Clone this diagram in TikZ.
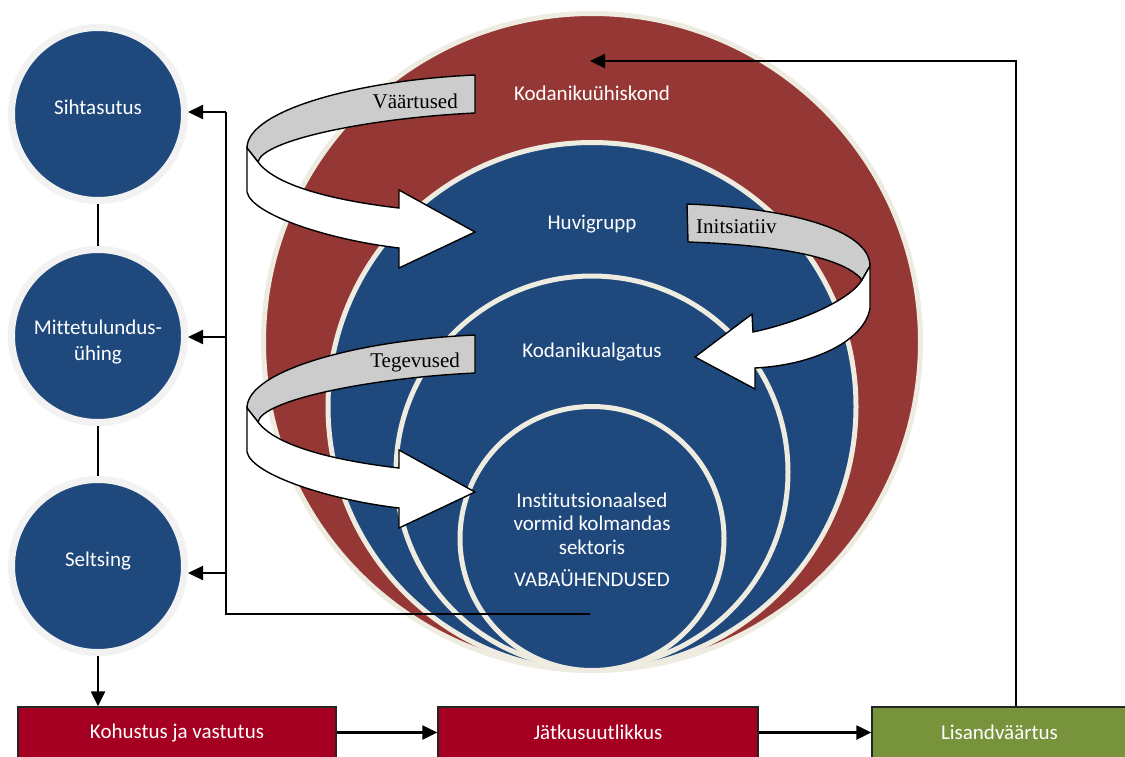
\documentclass[tikz,border=0pt]{standalone}
\usepackage{fontspec}
\setmainfont{Carlito}[Ligatures={NoCommon,NoContextual,NoRequired}]
\newfontfamily\bandfont{Liberation Serif}
\usetikzlibrary{arrows.meta}
\definecolor{civred}{HTML}{953735}
\definecolor{navy}{HTML}{1F497D}
\definecolor{beige}{HTML}{EEECE1}
\definecolor{ringgray}{HTML}{F2F2F2}
\definecolor{bandgray}{HTML}{CCCCCC}
\definecolor{boxred}{HTML}{A50021}
\definecolor{boxgreen}{HTML}{77933C}
\tikzset{
  bigcircle/.style={circle, draw=beige, line width=5pt, inner sep=0pt},
  orgcircle/.style={circle, fill=navy, draw=ringgray, line width=7pt, minimum size=173pt, inner sep=0pt},
  wlabel/.style={text=white, font=\fontsize{21}{25}\selectfont, inner sep=0pt, anchor=base},
  blabel/.style={text=black, font=\bandfont\fontsize{21}{25}\selectfont, inner sep=0pt},
  stage/.style={draw=black!85, line width=1.3pt, minimum height=51pt, text=white, font=\fontsize{21}{25}\selectfont, inner sep=0pt},
  conn/.style={line width=2.2pt, draw=black, line join=miter},
  arr/.style={conn, -{Triangle[length=15pt,width=14pt]}},
  gband/.style={fill=bandgray, draw=black, line width=1.4pt, line join=round},
  wband/.style={fill=white, draw=black, line width=1.4pt, line join=miter},
}
\begin{document}
\begin{tikzpicture}[x=1pt,y=-1pt]
\useasboundingbox (0,0) rectangle (1125,756);
\fill[white] (0,0) rectangle (1125,756);

% nested circles
\node[bigcircle, fill=civred, minimum size=657pt] (civ) at (592,342) {};
\node[bigcircle, fill=navy, minimum size=528pt] (huvi) at (592,406.5) {};
\node[bigcircle, fill=navy, minimum size=392pt] (alg) at (592,472) {};
\node[bigcircle, fill=navy, minimum size=264pt] (inst) at (592,538.5) {};

\node[wlabel] (lciv) at (592,100) {Kodanikuühiskond};
\node[wlabel] (lhuvi) at (592,229) {Huvigrupp};
\node[wlabel] (lalg) at (592,357) {Kodanikualgatus};
\node[wlabel] (linst1) at (592,507) {Institutsionaalsed};
\node[wlabel] (linst2) at (592,530) {vormid kolmandas};
\node[wlabel] (linst3) at (592,554) {sektoris};
\node[wlabel] (lvaba) at (592,586) {VABAÜHENDUSED};

% left organisation circles
\node[orgcircle] (c1) at (98,114) {};
\node[orgcircle] (c2) at (98,336) {};
\node[orgcircle] (c3) at (98,566) {};
\node[wlabel] (lsiht) at (98,114) {Sihtasutus};
\node[wlabel] (lmtu1) at (98,334) {Mittetulundus-};
\node[wlabel] (lmtu2) at (98,360) {ühing};
\node[wlabel] (lselts) at (98,566) {Seltsing};

\draw[conn] (c1) -- (c2);
\draw[conn] (c2) -- (c3);

% bottom boxes
\begin{scope}
\clip (0,0) rectangle (1125,756);
\node[stage, fill=boxred, minimum width=318pt] (b1) at (177,732.5) {Kohustus ja vastutus};
\node[stage, fill=boxred, minimum width=320pt] (b2) at (598,732.5) {Jätkusuutlikkus};
\node[stage, fill=boxgreen, minimum width=255pt] (b3) at (999.5,732.5) {Lisandväärtus};
\end{scope}

\draw[arr] (c3.south) -- (c3.south |- b1.north);
\draw[arr] (b1) -- (b2);
\draw[arr] (b2) -- (b3);

\coordinate (rise) at (1016,61);
\coordinate (civtop) at (590,61);
\draw[arr] (b3.north -| rise) -- (rise) -- (civtop);

% feedback from the inner circle
\coordinate (fbstart) at (590,614);
\coordinate (fbtop) at (226,112);
\coordinate (fb2) at (226,337);
\coordinate (fb3) at (226,573);
\draw[conn] (fbstart) -| (fbtop);
\draw[arr] (fbtop) -- (fbtop -| c1.east);
\draw[arr] (fb2) -- (fb2 -| c2.east);
\draw[arr] (fb3) -- (fb3 -| c3.east);

% curved arrow: Vaartused
\draw[gband] (475,75) .. controls (360,80) and (247,110) .. (247,148) -- (258,162) .. controls (262,140) and (370,118) .. (475,113) -- cycle;
\draw[wband] (247,148) -- (247,192) .. controls (252,215) and (330,240) .. (399,248) -- (399,268) -- (475,232) -- (399,190) -- (399,208) .. controls (330,200) and (275,185) .. (258,162) -- cycle;
\node[blabel, anchor=base east] (lvaar) at (458,108) {Väärtused};

% curved arrow: Tegevused
\begin{scope}[shift={(0,260)}]
\draw[gband] (475,75) .. controls (360,80) and (247,110) .. (247,148) -- (258,162) .. controls (262,140) and (370,118) .. (475,113) -- cycle;
\draw[wband] (247,148) -- (247,192) .. controls (252,215) and (330,240) .. (399,248) -- (399,268) -- (475,232) -- (399,190) -- (399,208) .. controls (330,200) and (275,185) .. (258,162) -- cycle;
\end{scope}
\node[blabel, anchor=base east] (ltege) at (460,367) {Tegevused};

% curved arrow: Initsiatiiv
\draw[gband] (687,204) .. controls (790,208) and (870,230) .. (870,266) -- (862,280) .. controls (845,258) and (780,245) .. (688,242) -- cycle;
\draw[wband] (870,266) -- (870,308) .. controls (865,340) and (815,365) .. (755,368) -- (755,389) -- (695,357) -- (752,314) -- (753,332) .. controls (800,322) and (850,300) .. (862,280) -- cycle;
\node[blabel, anchor=base west] (linit) at (696,233) {Initsiatiiv};
\end{tikzpicture}
\end{document}
